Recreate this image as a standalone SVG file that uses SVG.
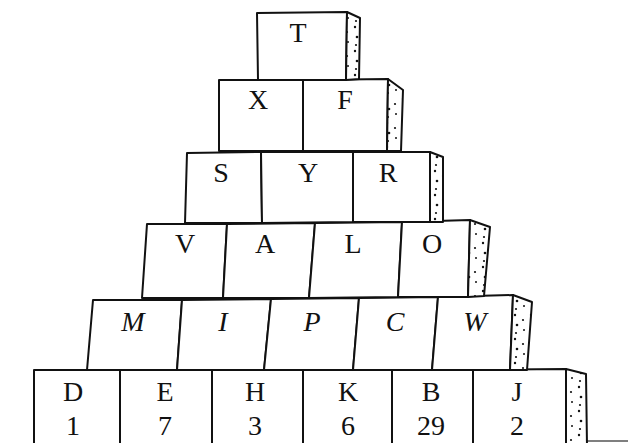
<svg xmlns="http://www.w3.org/2000/svg" width="628" height="443" viewBox="0 0 628 443">
<style>
.b{fill:#fff;stroke:#111;stroke-width:2;stroke-linejoin:round}
.s{fill:url(#dots);stroke:#111;stroke-width:2;stroke-linejoin:round}
.t{font-family:"Liberation Serif","Times New Roman",serif;font-size:28px;fill:#111;text-anchor:middle}
.i{font-style:italic}
</style>
<defs>
<pattern id="dots" patternUnits="userSpaceOnUse" width="16" height="24">
<rect width="16" height="24" fill="#fff"/>
<circle cx="3" cy="3" r="1.2" fill="#111"/>
<circle cx="11" cy="8" r="1.1" fill="#111"/>
<circle cx="5" cy="13" r="1.3" fill="#111"/>
<circle cx="12" cy="18" r="1" fill="#111"/>
<circle cx="4" cy="21" r="1.1" fill="#111"/>
</pattern>
</defs>
<line x1="560" y1="441" x2="628" y2="441" stroke="#555" stroke-width="1.5"/>
<g id="row6">
<g id="D"><polygon class="b" points="34,370 120,370 120,446 34,446"/><text class="t" x="73" y="401">D</text><text class="t" x="73" y="435">1</text></g>
<g id="E"><polygon class="b" points="120,370 212,370 212,446 120,446"/><text class="t" x="165" y="401">E</text><text class="t" x="165" y="435">7</text></g>
<g id="H"><polygon class="b" points="212,370 303,370 303,446 212,446"/><text class="t" x="255" y="401">H</text><text class="t" x="255" y="435">3</text></g>
<g id="K"><polygon class="b" points="303,370 392,370 392,446 303,446"/><text class="t" x="348" y="401">K</text><text class="t" x="348" y="435">6</text></g>
<g id="B"><polygon class="b" points="392,370 473,370 473,446 392,446"/><text class="t" x="431" y="401">B</text><text class="t" x="431" y="435">29</text></g>
<g id="J"><polygon class="b" points="473,370 566,369 566,446 473,446"/><text class="t" x="517" y="401">J</text><text class="t" x="517" y="435">2</text></g>
<g id="side6"><polygon class="s" points="566,369 586,374 587,446 566,446"/></g>
</g>
<g id="row5">
<g id="M"><polygon class="b" points="93,300 182,300 177,370 87,370"/><text class="t i" x="133" y="331">M</text></g>
<g id="I"><polygon class="b" points="182,300 271,299 264,370 177,370"/><text class="t i" x="223" y="331">I</text></g>
<g id="P"><polygon class="b" points="271,299 359,298 353,370 264,370"/><text class="t i" x="312" y="331">P</text></g>
<g id="C"><polygon class="b" points="359,298 438,297 432,370 353,370"/><text class="t i" x="395" y="331">C</text></g>
<g id="W"><polygon class="b" points="438,297 513,295 510,370 432,370"/><text class="t i" x="475" y="331">W</text></g>
<g id="side5"><polygon class="s" points="513,295 532,302 527,370 510,370"/></g>
</g>
<g id="row4">
<g id="V"><polygon class="b" points="147,224 227,224 223,298 142,298"/><text class="t" x="185" y="253">V</text></g>
<g id="A"><polygon class="b" points="227,224 315,223 309,298 223,298"/><text class="t" x="265" y="253">A</text></g>
<g id="L"><polygon class="b" points="315,223 402,222 398,297 309,298"/><text class="t" x="353" y="253">L</text></g>
<g id="O"><polygon class="b" points="402,222 470,220 468,297 398,297"/><text class="t" x="432" y="253">O</text></g>
<g id="side4"><polygon class="s" points="470,220 490,227 484,296 468,297"/></g>
</g>
<g id="row3">
<g id="S"><polygon class="b" points="187,153 261,152 262,223 185,223"/><text class="t" x="221" y="182">S</text></g>
<g id="Y"><polygon class="b" points="261,152 353,152 353,222 262,223"/><text class="t" x="308" y="182">Y</text></g>
<g id="R"><polygon class="b" points="353,152 430,152 430,222 353,222"/><text class="t" x="388" y="182">R</text></g>
<g id="side3"><polygon class="s" points="430,152 443,157 443,222 430,222"/></g>
</g>
<g id="row2">
<g id="X"><polygon class="b" points="219,80 303,80 303,151 219,151"/><text class="t" x="258" y="109">X</text></g>
<g id="F"><polygon class="b" points="303,80 388,79 387,151 303,151"/><text class="t" x="345" y="109">F</text></g>
<g id="side2"><polygon class="s" points="388,79 403,90 401,151 387,151"/></g>
</g>
<g id="row1">
<g id="T"><polygon class="b" points="257,13 347,12 346,80 258,80"/><text class="t" x="298" y="42">T</text></g>
<g id="side1"><polygon class="s" points="347,12 360,18 359,79 346,80"/></g>
</g>
</svg>
